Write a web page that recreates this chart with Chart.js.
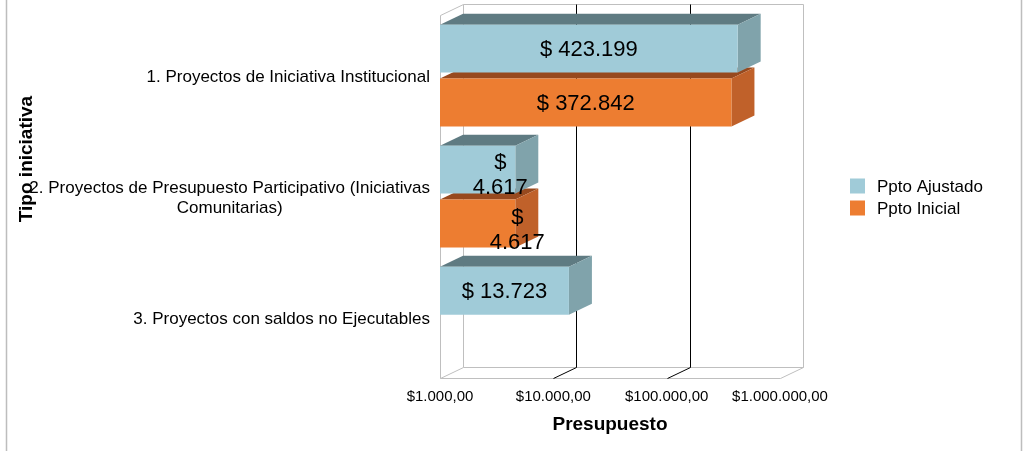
<!DOCTYPE html>
<html><head><meta charset="utf-8">
<script src="https://cdn.jsdelivr.net/npm/chart.js@4.4.1/dist/chart.umd.min.js"></script>
<style>html,body{margin:0;padding:0;background:#fff;overflow:hidden}#wrap{width:1025px;height:451px;position:relative}</style>
</head><body><div id="wrap"><canvas id="c" width="1025" height="451"></canvas></div>
<script>
// ---- data ----
const categories = [
  ['1. Proyectos de Iniciativa Institucional'],
  ['2. Proyectos de Presupuesto Participativo (Iniciativas', 'Comunitarias)'],
  ['3. Proyectos con saldos no Ejecutables']
];
const seriesNames = ['Ppto Ajustado', 'Ppto Inicial'];
const pptoAjustado = [423199, 4617, 13723];
const pptoInicial = [372842, 4617, null];
const tickValues = [1000, 10000, 100000, 1000000];
const tickLabels = ['$1.000,00', '$10.000,00', '$100.000,00', '$1.000.000,00'];
const xTitle = 'Presupuesto';
const yTitle = 'Tipo iniciativa';

// ---- style ----
const FAM = "'Liberation Sans', Arial, sans-serif";
const FRONT = ['#A0CBD8', '#ED7D31'];
const TOP = ['#5F7B82', '#97491E'];
const SIDE = ['#80A3AB', '#C0612A'];
const DX = 23, DY = -11;
const WRAP_DX = [-15, 2], WRAP_DY = [-7, -6];

function fmt(v) { return String(v).replace(/\B(?=(\d{3})+(?!\d))/g, '.'); }
function ln(ctx, x1, y1, x2, y2) { ctx.beginPath(); ctx.moveTo(x1, y1); ctx.lineTo(x2, y2); ctx.stroke(); }
function barBox(el) {
  const p = el.getProps(['x', 'y', 'base', 'height'], true);
  return { l: Math.min(p.x, p.base), r: Math.max(p.x, p.base), t: p.y - p.height / 2, b: p.y + p.height / 2, cy: p.y };
}

const threeD = {
  id: 'threeD',
  beforeDatasetsDraw(chart) {
    const { ctx, chartArea: a, scales: { x } } = chart;
    const L = Math.round(a.left) + 0.5, R = Math.round(a.right) + 0.5, T = Math.round(a.top) + 0.5, B = Math.round(a.bottom) + 0.5;
    ctx.save();
    ctx.lineWidth = 1;
    ctx.strokeStyle = '#BFBFBF';
    ln(ctx, L, T, L + DX, T + DY);
    ln(ctx, L, T, L, B);
    ln(ctx, L, B, L + DX, B + DY);
    ln(ctx, L + DX, T + DY, L + DX, B + DY);
    ln(ctx, L + DX, T + DY, R + DX, T + DY);
    ln(ctx, R + DX, T + DY, R + DX, B + DY);
    ln(ctx, L + DX, B + DY, R + DX, B + DY);
    ln(ctx, L, B, R, B);
    ln(ctx, R, B, R + DX, B + DY);
    ctx.strokeStyle = '#000';
    tickValues.slice(1, -1).forEach(v => {
      const px = Math.round(x.getPixelForValue(v)) + 0.5;
      ln(ctx, px + DX, T + DY, px + DX, B + DY);
      ln(ctx, px + DX, B + DY, px, B);
    });
    // 3D faces, drawn bottom bar first
    const bars = [];
    chart.data.datasets.forEach((ds, di) => {
      chart.getDatasetMeta(di).data.forEach((el, i) => {
        if (ds.data[i] == null) return;
        bars.push({ di, box: barBox(el) });
      });
    });
    bars.sort((p, q) => q.box.t - p.box.t);
    bars.forEach(({ di, box }) => {
      ctx.fillStyle = TOP[di];
      ctx.beginPath();
      ctx.moveTo(box.l, box.t); ctx.lineTo(box.r, box.t);
      ctx.lineTo(box.r + DX, box.t + DY); ctx.lineTo(box.l + DX, box.t + DY);
      ctx.closePath(); ctx.fill();
      ctx.fillStyle = SIDE[di];
      ctx.beginPath();
      ctx.moveTo(box.r, box.t); ctx.lineTo(box.r + DX, box.t + DY);
      ctx.lineTo(box.r + DX, box.b + DY); ctx.lineTo(box.r, box.b);
      ctx.closePath(); ctx.fill();
    });
    ctx.restore();
  },
  afterDatasetsDraw(chart) {
    const { ctx } = chart;
    ctx.save();
    ctx.fillStyle = '#000';
    ctx.font = '22px ' + FAM;
    ctx.textAlign = 'center';
    ctx.textBaseline = 'middle';
    chart.data.datasets.forEach((ds, di) => {
      chart.getDatasetMeta(di).data.forEach((el, i) => {
        const v = ds.data[i];
        if (v == null) return;
        const box = barBox(el);
        const txt = '$ ' + fmt(v);
        const w = ctx.measureText(txt).width;
        if (w > (box.r - box.l) * 0.9) {
          const cx = box.r + WRAP_DX[di];
          ctx.fillText('$', cx, box.cy + WRAP_DY[di]);
          ctx.fillText(fmt(v), cx, box.cy + WRAP_DY[di] + 25);
        } else {
          ctx.fillText(txt, (box.l + box.r) / 2, box.cy + 1);
        }
      });
    });
    ctx.restore();
  },
  afterDraw(chart) {
    const { ctx, chartArea: a, scales: { y } } = chart;
    ctx.save();
    // outer frame
    ctx.strokeStyle = '#BDBDBD'; ctx.lineWidth = 1.5;
    ln(ctx, 6.5, 0, 6.5, 451);
    ln(ctx, 1021.5, 0, 1021.5, 451);
    // category labels
    ctx.fillStyle = '#000';
    ctx.font = '17px ' + FAM;
    ctx.textAlign = 'center';
    ctx.textBaseline = 'middle';
    const lh = 19.5;
    const rightX = a.left - 10;
    categories.forEach((lines, i) => {
      const widest = Math.max(...lines.map(s => ctx.measureText(s).width));
      const cx = rightX - widest / 2;
      const cy = y.getPixelForValue(i) + 1.5;
      lines.forEach((s, k) => ctx.fillText(s, cx, cy - (lines.length - 1) * lh / 2 + k * lh));
    });
    // y title
    ctx.save();
    ctx.translate(27, 159);
    ctx.rotate(-Math.PI / 2);
    ctx.font = 'bold 19px ' + FAM;
    ctx.fillText(yTitle, 0, 0);
    ctx.restore();
    // legend
    ctx.font = '17px ' + FAM;
    ctx.textAlign = 'left';
    chart.data.datasets.forEach((ds, di) => {
      const cy = 186 + di * 22;
      ctx.fillStyle = ds.backgroundColor;
      ctx.fillRect(850, cy - 7.5, 15, 15);
      ctx.fillStyle = '#000';
      ctx.fillText(ds.label, 877, cy + 1);
    });
    ctx.restore();
  }
};

new Chart(document.getElementById('c'), {
  type: 'bar',
  data: {
    labels: categories,
    datasets: [
      { label: seriesNames[0], data: pptoAjustado, backgroundColor: FRONT[0], borderWidth: 0, barPercentage: 0.889, categoryPercentage: 0.89 },
      { label: seriesNames[1], data: pptoInicial, backgroundColor: FRONT[1], borderWidth: 0, barPercentage: 0.889, categoryPercentage: 0.89 }
    ]
  },
  options: {
    indexAxis: 'y',
    responsive: false,
    animation: false,
    layout: { padding: { left: 440, right: 245, top: 15, bottom: 11 } },
    plugins: { legend: { display: false }, tooltip: { enabled: false } },
    scales: {
      x: {
        type: 'logarithmic', min: 1000, max: 1000000,
        afterBuildTicks: s => { s.ticks = tickValues.map(v => ({ value: v })); },
        grid: { display: false, drawTicks: false },
        border: { display: false },
        ticks: {
          padding: 10, color: '#000', maxRotation: 0, autoSkip: false,
          font: { size: 15, family: FAM },
          callback: v => tickLabels[tickValues.indexOf(v)]
        },
        title: { display: true, text: xTitle, color: '#000', font: { size: 19, weight: 'bold', family: FAM }, padding: { top: -3, bottom: 4 } }
      },
      y: { display: false }
    }
  },
  plugins: [threeD]
});
</script>
</body></html>
